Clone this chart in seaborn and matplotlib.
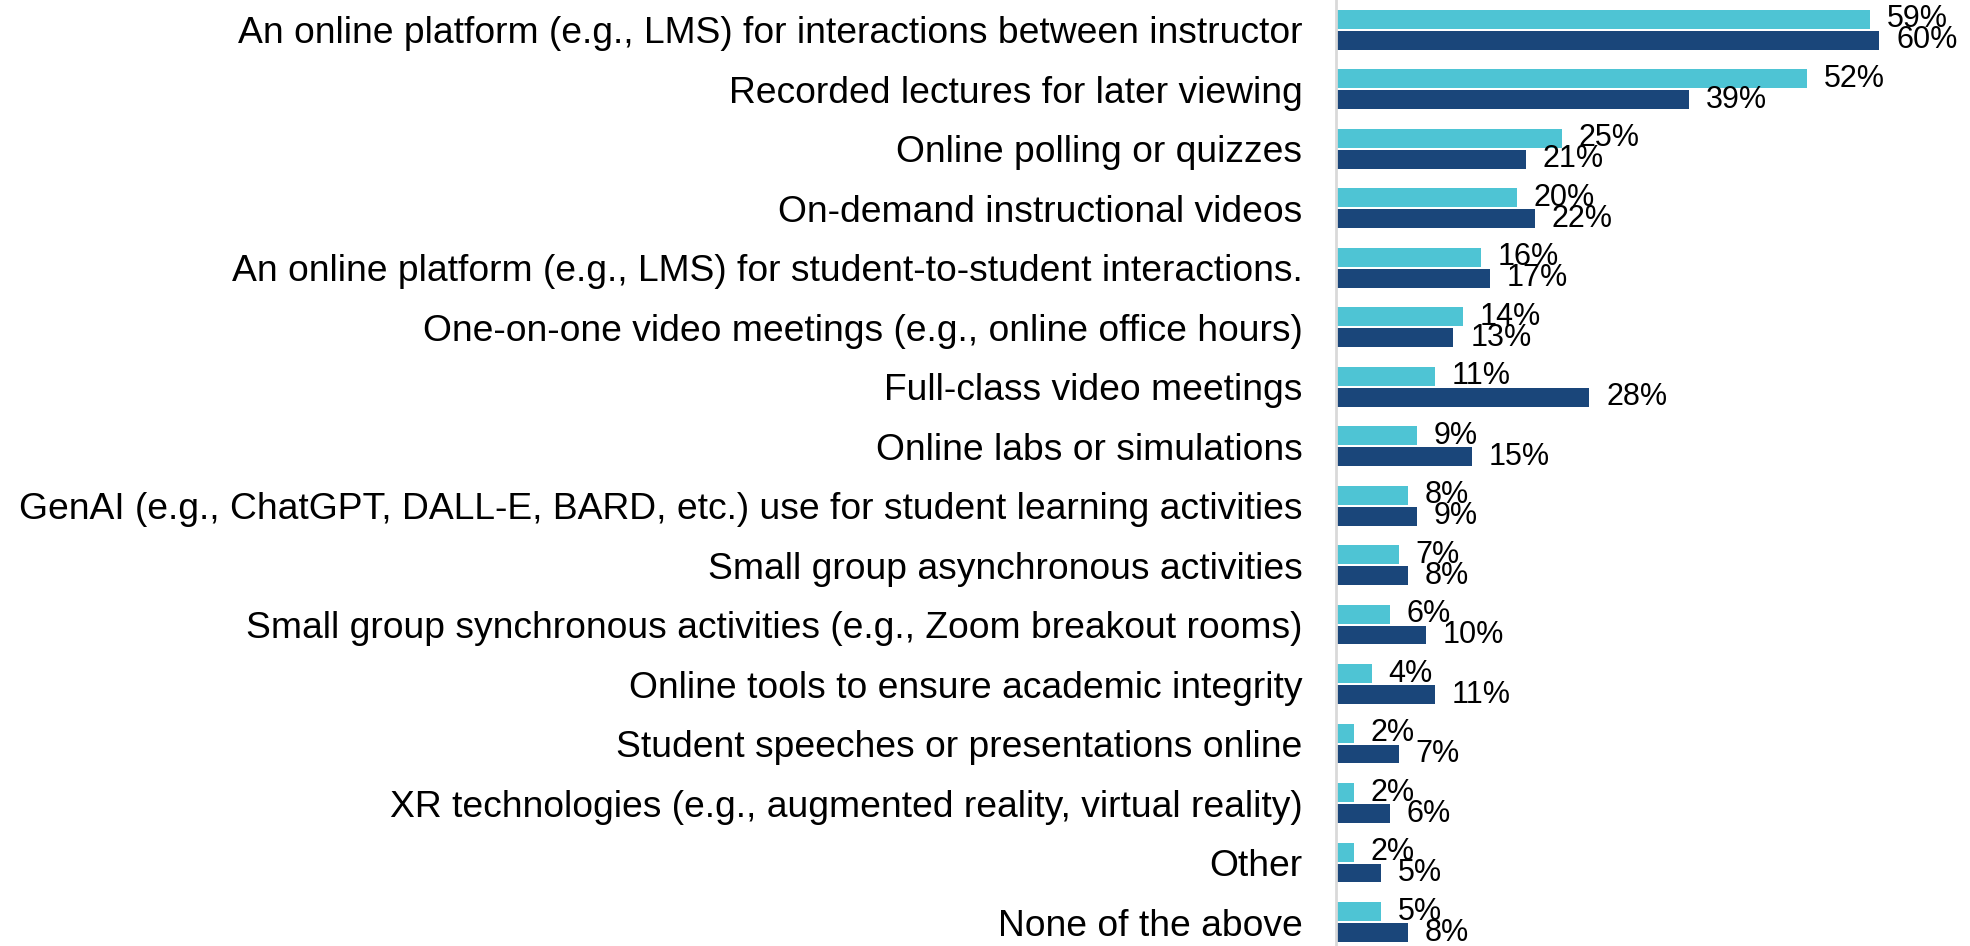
import pandas as pd
import seaborn as sns
import matplotlib.pyplot as plt

# Chart data
categories = [
    "An online platform (e.g., LMS) for interactions between instructor",
    "Recorded lectures for later viewing",
    "Online polling or quizzes",
    "On-demand instructional videos",
    "An online platform (e.g., LMS) for student-to-student interactions.",
    "One-on-one video meetings (e.g., online office hours)",
    "Full-class video meetings",
    "Online labs or simulations",
    "GenAI (e.g., ChatGPT, DALL-E, BARD, etc.) use for student learning activities",
    "Small group asynchronous activities",
    "Small group synchronous activities (e.g., Zoom breakout rooms)",
    "Online tools to ensure academic integrity",
    "Student speeches or presentations online",
    "XR technologies (e.g., augmented reality, virtual reality)",
    "Other",
    "None of the above",
]
series_names = ["Series 1", "Series 2"]
series_1 = [59, 52, 25, 20, 16, 14, 11, 9, 8, 7, 6, 4, 2, 2, 2, 5]
series_2 = [60, 39, 21, 22, 17, 13, 28, 15, 9, 8, 10, 11, 7, 6, 5, 8]
colors = ["#4EC4D4", "#1A467A"]

df = pd.DataFrame({
    "category": categories * 2,
    "value": series_1 + series_2,
    "series": [series_names[0]] * len(categories) + [series_names[1]] * len(categories),
})

sns.set_style("white")
plt.rcParams["font.family"] = ["Liberation Sans", "DejaVu Sans"]

fig = plt.figure(figsize=(19.7, 9.46), dpi=100)
ax = fig.add_axes([0.678, 0.0, 0.322, 1.0])

sns.barplot(
    data=df, y="category", x="value", hue="series",
    orient="h", palette=colors, saturation=1, width=0.7, gap=0.1,
    linewidth=0, legend=False, ax=ax,
)

# Value labels
for container, vals in zip(ax.containers, [series_1, series_2]):
    ax.bar_label(container, labels=[f"{v}%" for v in vals],
                 padding=12, fontsize=22, color="black")

ax.set_xlim(0, 70)
ax.set_ylim(15.4, -0.5)
ax.set_xlabel("")
ax.set_ylabel("")
ax.set_xticks([])
ax.tick_params(axis="y", length=0, pad=24, labelsize=26.8, labelcolor="black")

for side in ["top", "right", "bottom"]:
    ax.spines[side].set_visible(False)
ax.spines["left"].set_color("#D9D9D9")
ax.spines["left"].set_linewidth(2)

plt.savefig("out.png", dpi=100)
